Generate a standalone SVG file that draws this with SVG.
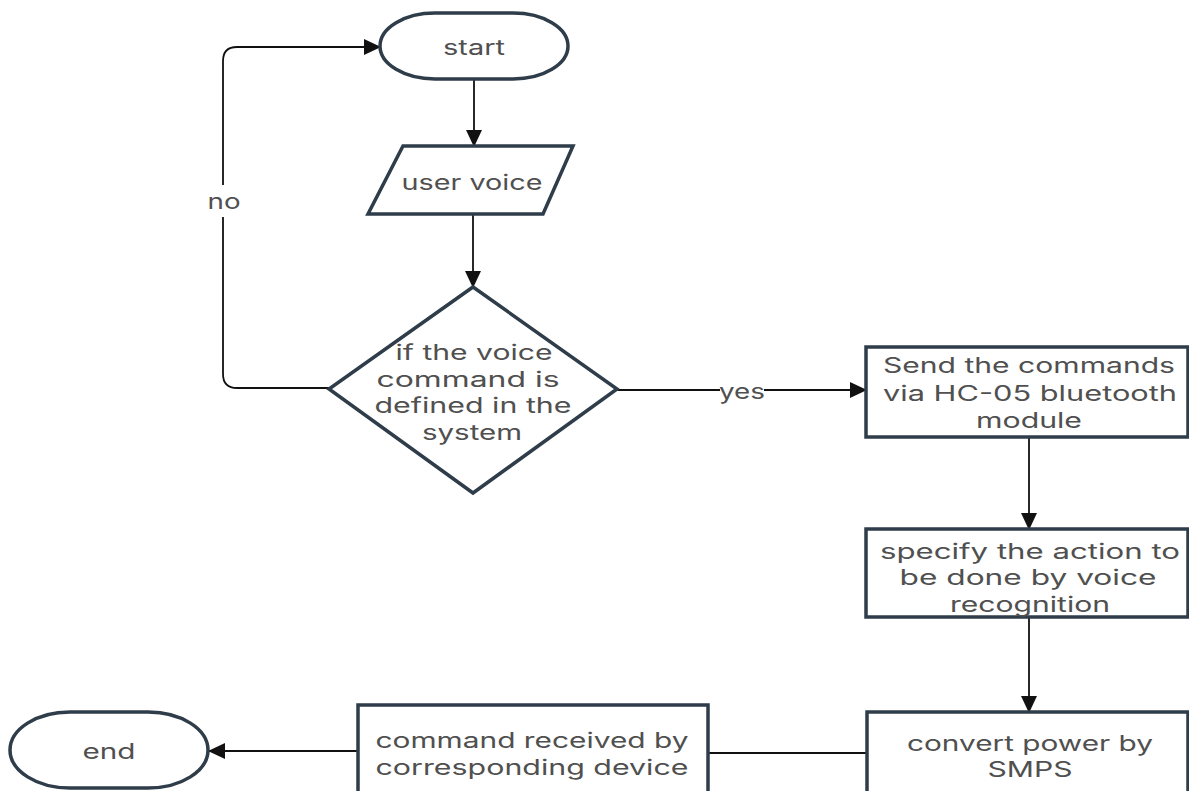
<svg xmlns="http://www.w3.org/2000/svg" width="1189" height="791" viewBox="0 0 1189 791">
<defs>
<style>
.shape{fill:#ffffff;stroke:#2e3d49;stroke-width:3.5}
.con{fill:none;stroke:#111111;stroke-width:1.8}
.t{font-family:Inter,"Open Sans","Liberation Sans",sans-serif;font-size:21px;fill:#505050;text-anchor:middle;dominant-baseline:central}
.lbl{fill:#ffffff;stroke:none}
</style>
<marker id="arr" markerWidth="17" markerHeight="16" refX="16" refY="8" orient="auto" markerUnits="userSpaceOnUse">
<path d="M0,0 L17,8 L0,16 Z" fill="#111111"/>
</marker>
</defs>
<rect width="1189" height="791" fill="#ffffff"/>
<g id="connectors">
<path class="con" d="M474 79 V146" marker-end="url(#arr)"/>
<path class="con" d="M473 214 V287" marker-end="url(#arr)"/>
<path class="con" d="M329 388 H237 Q223 388 223 374 V61 Q223 47 237 47 H380" marker-end="url(#arr)"/>
<rect class="lbl" x="205" y="185" width="36" height="32"/>
<text class="t" x="224" y="201" textLength="33" lengthAdjust="spacingAndGlyphs">no</text>
<path class="con" d="M617 390 H866" marker-end="url(#arr)"/>
<rect class="lbl" x="720" y="380" width="44" height="22"/>
<text class="t" x="742" y="391" textLength="46" lengthAdjust="spacingAndGlyphs">yes</text>
<path class="con" d="M1029 437 V529" marker-end="url(#arr)"/>
<path class="con" d="M1029 617 V712" marker-end="url(#arr)"/>
<path class="con" d="M867 753 H708"/>
<path class="con" d="M358 751 H209" marker-end="url(#arr)"/>
</g>
<g id="start">
<rect class="shape" x="380" y="13" width="188" height="66" rx="55" ry="33"/>
<text class="t" x="474" y="47" textLength="62" lengthAdjust="spacingAndGlyphs">start</text>
</g>
<g id="user-voice">
<polygon class="shape" points="403,146 573,146 543,214 368,214"/>
<text class="t" x="472" y="182" textLength="141" lengthAdjust="spacingAndGlyphs">user voice</text>
</g>
<g id="decision">
<polygon class="shape" points="473,287 617,389 473,493 329,389"/>
<text class="t" x="474" y="352" textLength="157" lengthAdjust="spacingAndGlyphs">if the voice</text>
<text class="t" x="468" y="379" textLength="183" lengthAdjust="spacingAndGlyphs">command is</text>
<text class="t" x="473" y="405" textLength="197" lengthAdjust="spacingAndGlyphs">defined in the</text>
<text class="t" x="472" y="432" textLength="100" lengthAdjust="spacingAndGlyphs">system</text>
</g>
<g id="send-commands">
<rect class="shape" x="866" y="347" width="322" height="90"/>
<text class="t" x="1029" y="365" textLength="292" lengthAdjust="spacingAndGlyphs">Send the commands</text>
<text class="t" x="1030" y="393" textLength="294" lengthAdjust="spacingAndGlyphs">via HC-05 bluetooth</text>
<text class="t" x="1029" y="420" textLength="106" lengthAdjust="spacingAndGlyphs">module</text>
</g>
<g id="specify-action">
<rect class="shape" x="866" y="529" width="322" height="88"/>
<text class="t" x="1030" y="551" textLength="300" lengthAdjust="spacingAndGlyphs">specify the action to</text>
<text class="t" x="1028" y="577" textLength="257" lengthAdjust="spacingAndGlyphs">be done by voice</text>
<text class="t" x="1030" y="604" textLength="160" lengthAdjust="spacingAndGlyphs">recognition</text>
</g>
<g id="convert-power">
<rect class="shape" x="867" y="712" width="321" height="90"/>
<text class="t" x="1030" y="743" textLength="246" lengthAdjust="spacingAndGlyphs">convert power by</text>
<text class="t" x="1030" y="769" textLength="85" lengthAdjust="spacingAndGlyphs">SMPS</text>
</g>
<g id="command-received">
<rect class="shape" x="358" y="705" width="350" height="100"/>
<text class="t" x="532" y="740" textLength="313" lengthAdjust="spacingAndGlyphs">command received by</text>
<text class="t" x="532" y="767" textLength="313" lengthAdjust="spacingAndGlyphs">corresponding device</text>
</g>
<g id="end">
<rect class="shape" x="10" y="712" width="198" height="76" rx="60" ry="38"/>
<text class="t" x="109" y="751" textLength="53" lengthAdjust="spacingAndGlyphs">end</text>
</g>
</svg>
